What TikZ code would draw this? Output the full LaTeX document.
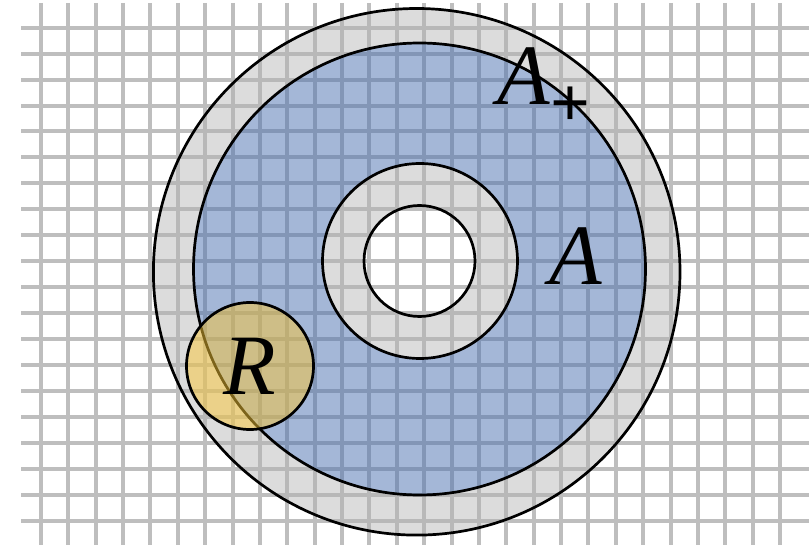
\documentclass[tikz,border=0pt]{standalone}
\usepackage{fontspec}
\newfontfamily\labelfont{Liberation Serif}
\usetikzlibrary{positioning}
\definecolor{gridgray}{RGB}{190,190,190}
\definecolor{ringgray}{RGB}{178,178,178}
\definecolor{ringblue}{RGB}{74,111,176}
\definecolor{regionyellow}{RGB}{249,199,55}
\tikzset{
  gridline/.style={line width=4pt, gridgray},
  grayring/.style={fill=ringgray, fill opacity=0.45, even odd rule},
  bluering/.style={fill=ringblue, fill opacity=0.5, even odd rule},
  outline/.style={draw=black, line width=2.7pt},
  regiondisc/.style={circle, draw=black, line width=2.7pt, fill=regionyellow, fill opacity=0.5, text opacity=1, minimum size=127pt, inner sep=0pt},
  biglabel/.style={font=\labelfont\itshape\fontsize{86}{100}\selectfont, inner sep=0pt}
}
\newcommand{\pluslow}{\kern1pt\raisebox{-22pt}{\upshape\bfseries\fontsize{70}{70}\selectfont +}}

\begin{document}
\begin{tikzpicture}[x=1pt, y=-1pt]
  \useasboundingbox (0,0) rectangle (809,545);
  % background grid
  \foreach \k in {0,...,27}
    \draw[gridline] ({41+27.37*\k},3) -- ({41+27.37*\k},545);
  \foreach \k in {0,...,19}
    \draw[gridline] (21,{27.7+25.95*\k}) -- (809,{27.7+25.95*\k});
  % centres of the rings
  \coordinate (outerc) at (416.7,271.8);
  \coordinate (bluec) at (419.5,269);
  \coordinate (innerc) at (420,261);
  \coordinate (holec) at (419.5,261);
  % rings
  \fill[grayring] (outerc) circle[radius=263.3] (bluec) circle[radius=226];
  \fill[bluering] (bluec) circle[radius=226] (innerc) circle[radius=97.5];
  \fill[grayring] (innerc) circle[radius=97.5] (holec) circle[radius=55.5];
  \draw[outline] (outerc) circle[radius=263.3];
  \draw[outline] (bluec) circle[radius=226];
  \draw[outline] (innerc) circle[radius=97.5];
  \draw[outline] (holec) circle[radius=55.5];
  % labels
  \node[biglabel, anchor=base west] (aplus) at (497,105) {A\pluslow};
  \node[biglabel] (alabel) at (576,256) {A};
  \node[regiondisc, biglabel] (region) at (250,366) {R};
\end{tikzpicture}
\end{document}
